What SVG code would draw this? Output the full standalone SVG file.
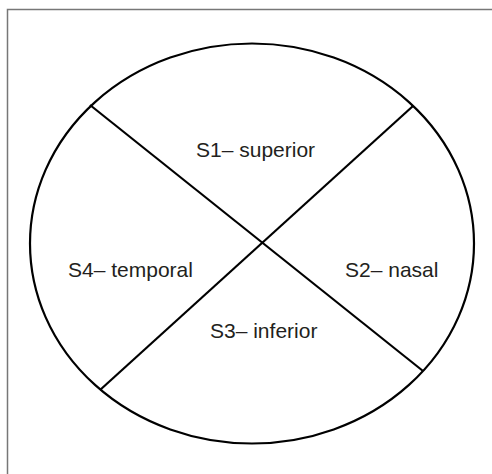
<svg xmlns="http://www.w3.org/2000/svg" width="492" height="474" viewBox="0 0 492 474">
<style>
.ln{stroke:#000;stroke-width:2.2;fill:none}
.lbl{font-family:"Liberation Sans",Arial,sans-serif;font-size:21px;fill:#231f20}
</style>
<rect x="0" y="0" width="492" height="474" fill="#fff"/>
<rect x="7.5" y="9.5" width="500" height="500" fill="none" stroke="#777" stroke-width="1.5"/>
<g id="connectors">
<ellipse class="ln" cx="252" cy="243.5" rx="222" ry="200"/>
<line class="ln" x1="90" y1="105" x2="423" y2="371"/>
<line class="ln" x1="413" y1="106" x2="100" y2="390"/>
</g>
<g id="s1"><text class="lbl" x="196" y="157">S1– superior</text></g>
<g id="s2"><text class="lbl" x="345" y="277">S2– nasal</text></g>
<g id="s3"><text class="lbl" x="210" y="338">S3– inferior</text></g>
<g id="s4"><text class="lbl" x="68" y="277">S4– temporal</text></g>
</svg>
